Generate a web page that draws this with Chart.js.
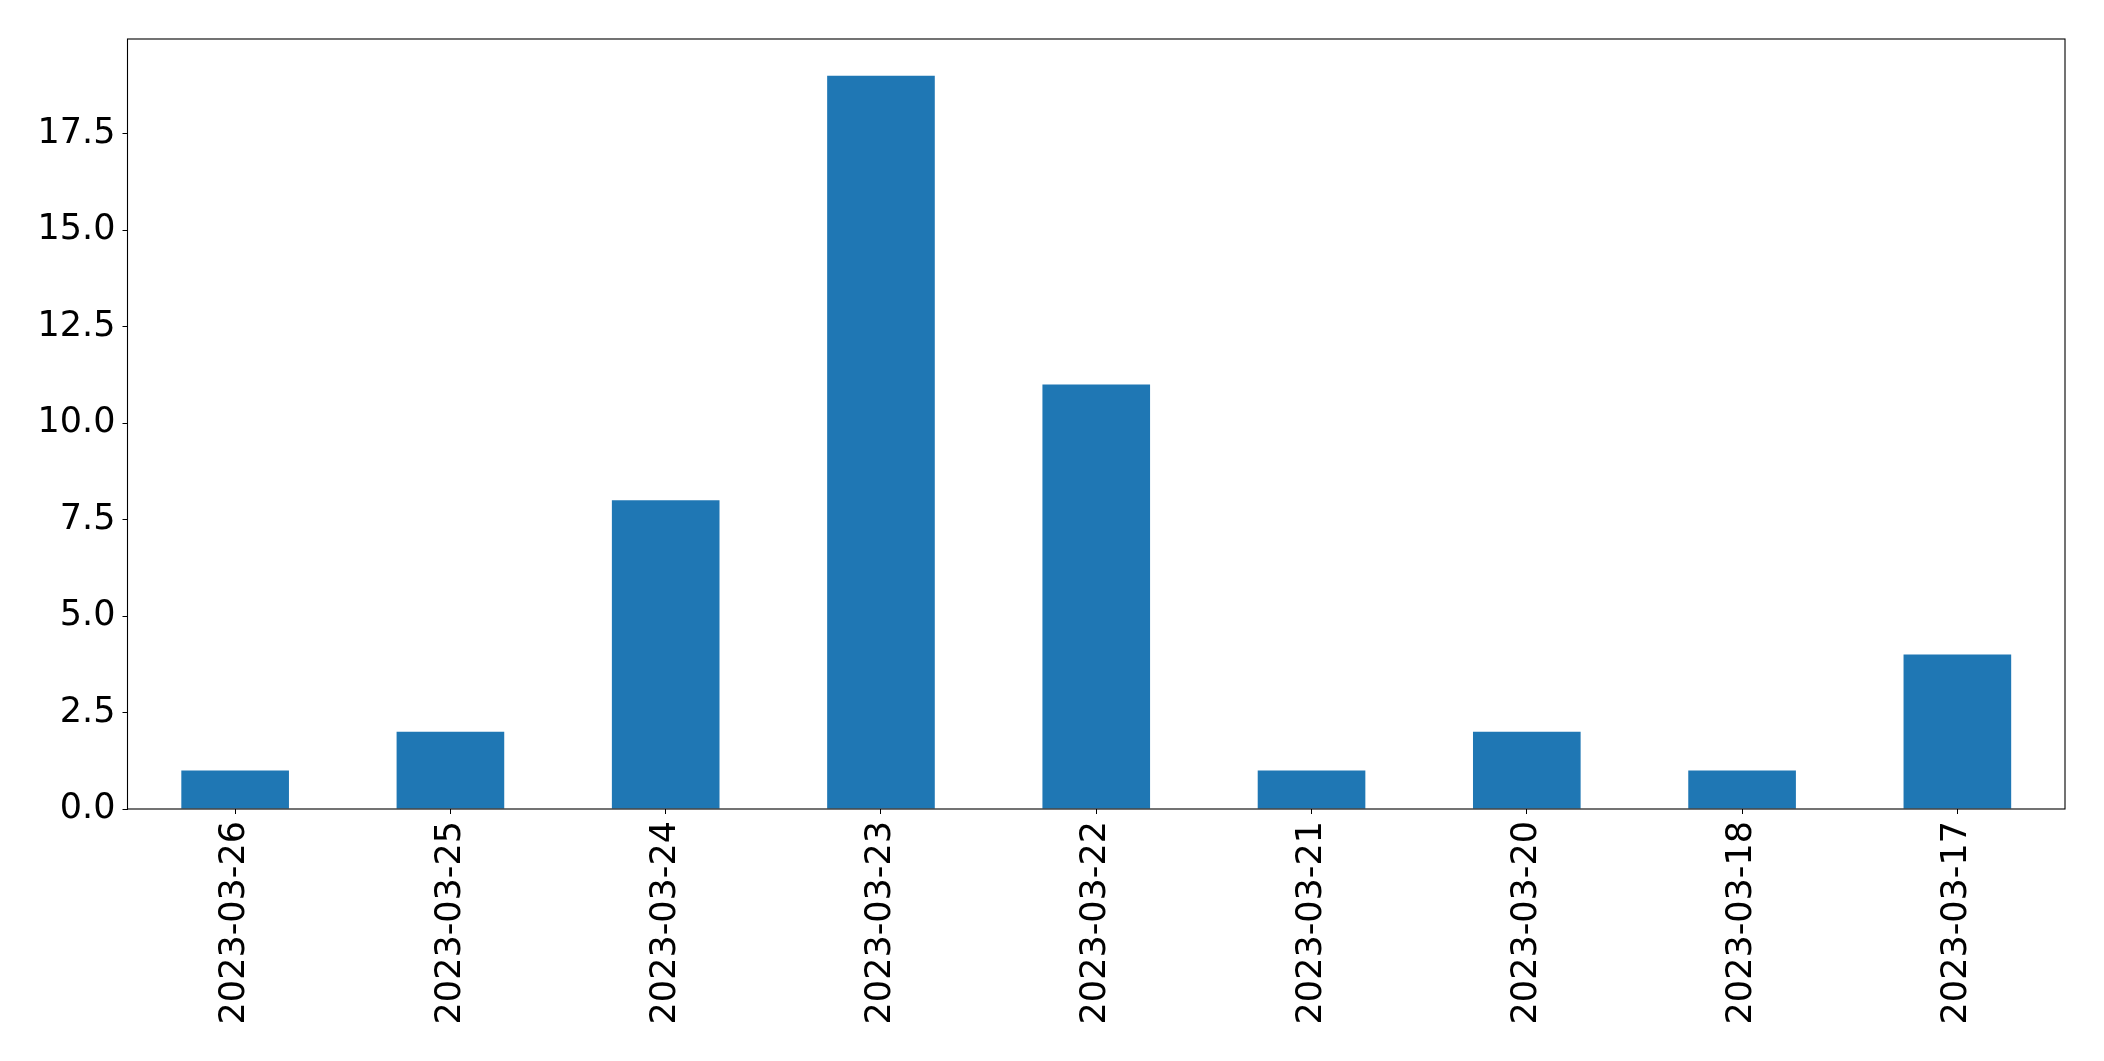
<!DOCTYPE html>
<html>
<head>
<meta charset="utf-8">
<script src="https://cdn.jsdelivr.net/npm/chart.js"></script>
<style>
  html, body { margin: 0; padding: 0; background: #fff; }
  #wrap { width: 2104px; height: 1061px; }
</style>
</head>
<body>
<div id="wrap"><canvas id="chart" width="2104" height="1061"></canvas></div>
<script>
// dati
const dates = ["2023-03-26", "2023-03-25", "2023-03-24", "2023-03-23", "2023-03-22",
               "2023-03-21", "2023-03-20", "2023-03-18", "2023-03-17"];
const counts = [1, 2, 8, 19, 11, 1, 2, 1, 4];
const yTicks = [0, 2.5, 5, 7.5, 10, 12.5, 15, 17.5];
const yMax = 19.95;

// cornice nera attorno all'area del grafico
const frame = {
  id: "frame",
  afterDraw(chart) {
    const a = chart.chartArea;
    const ctx = chart.ctx;
    ctx.save();
    ctx.strokeStyle = "#000";
    ctx.lineWidth = 1.1;
    ctx.strokeRect(a.left, a.top, a.right - a.left, a.bottom - a.top);
    ctx.restore();
  }
};

const font = { family: "'DejaVu Sans'", size: 35 };

new Chart(document.getElementById("chart"), {
  type: "bar",
  data: {
    labels: dates,
    datasets: [{
      data: counts,
      backgroundColor: "#1f77b4",
      borderWidth: 0,
      categoryPercentage: 1,
      barPercentage: 0.5
    }]
  },
  options: {
    responsive: false,
    animation: false,
    layout: { padding: { top: 39, right: 39, left: 0, bottom: 0 } },
    plugins: { legend: { display: false }, tooltip: { enabled: false } },
    scales: {
      x: {
        offset: true,
        grid: { display: true, drawOnChartArea: false, drawTicks: true, tickLength: 5, color: "#000", offset: false },
        border: { display: false },
        ticks: { color: "#000", font, minRotation: 90, maxRotation: 90, padding: 7, autoSkip: false },
        afterFit(scale) { scale.height = 1061 - 809; }
      },
      y: {
        min: 0,
        max: yMax,
        grid: { display: true, drawOnChartArea: false, drawTicks: true, tickLength: 5, color: "#000" },
        border: { display: false },
        ticks: {
          color: "#000",
          font,
          padding: 7,
          callback: v => v.toFixed(1)
        },
        afterBuildTicks(scale) {
          scale.ticks = yTicks.map(v => ({ value: v }));
        },
        afterFit(scale) { scale.width = 127.5; }
      }
    }
  },
  plugins: [frame]
});
</script>
</body>
</html>
